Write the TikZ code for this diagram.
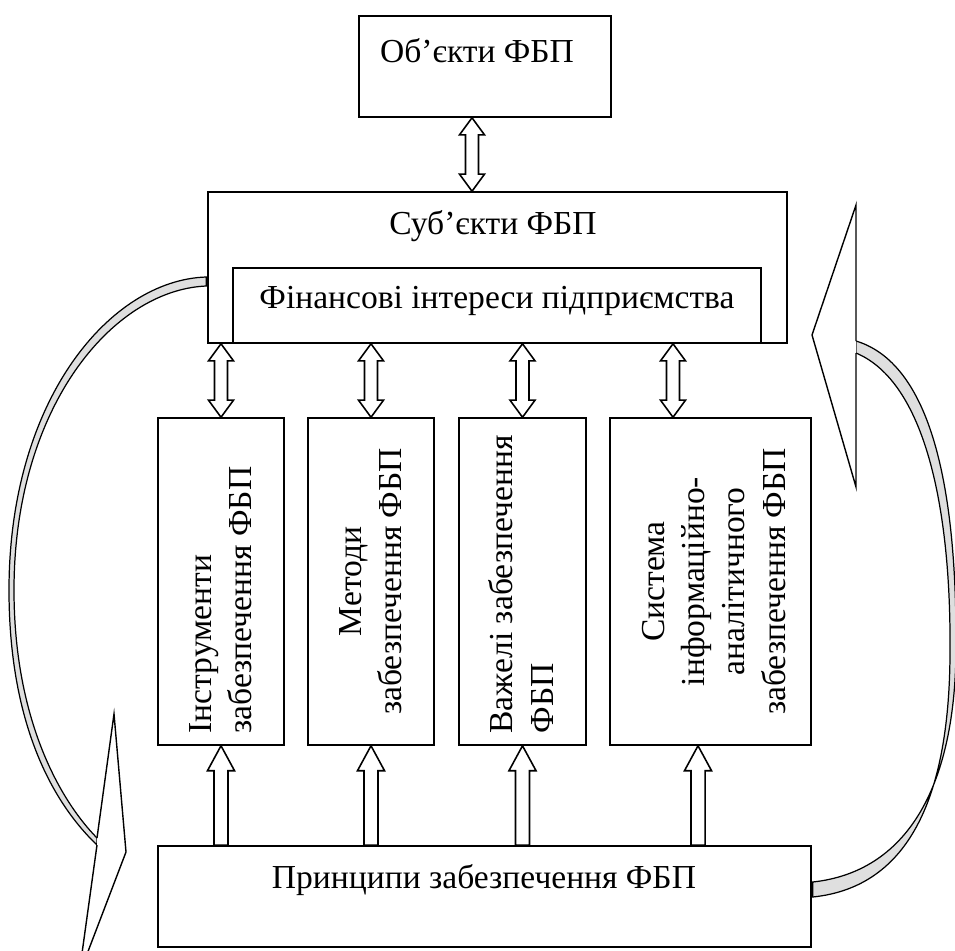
\documentclass[tikz,border=0pt]{standalone}
\usepackage{fontspec}
\setmainfont{Liberation Serif}
\usetikzlibrary{calc}

\tikzset{
  box/.style={draw, line width=0.9pt, inner sep=0pt},
  txt/.style={font=\fontsize{19.1}{22.8}\selectfont, inner sep=0pt},
  hollow/.style={draw, fill=white, line width=0.9pt, line join=miter},
  updown/.style={to path={let \p1=(\tikztostart), \p2=(\tikztotarget) in
    (\p1) -- ++(7.1pt,-9.7pt) -- ++(-3.4pt,0pt) -- ($(\p2)+(3.7pt,9.7pt)$)
    -- ++(3.4pt,0pt) -- (\p2) -- ++(-7.1pt,9.7pt) -- ++(3.4pt,0pt)
    -- ($(\p1)+(-3.7pt,-9.7pt)$) -- ++(-3.4pt,0pt) -- cycle}},
  upward/.style={to path={let \p1=(\tikztostart), \p2=(\tikztotarget) in
    ($(\p1)+(-4pt,0pt)$) -- ($(\p2)+(-4pt,-14.2pt)$) -- ++(-3.7pt,0pt) -- (\p2)
    -- ++(7.7pt,-14.2pt) -- ++(-3.7pt,0pt) -- ($(\p1)+(4pt,0pt)$) -- cycle}},
  shaft/.style={draw, fill=gray!25, line width=0.7pt},
  tip/.style={draw, fill=white, line width=0.8pt, line join=miter}
}

\begin{document}
\begin{tikzpicture}[x=0.02cm, y=-0.02cm]

\useasboundingbox (0,0) rectangle (955,950);
\clip (0,0) rectangle (955,950);

\node[box, minimum width=5.04cm, minimum height=2.02cm] (obj) at (485,66.5) {};
\node[txt, anchor=base] (objtxt) at (477,62) {Об’єкти ФБП};

\node[box, minimum width=11.58cm, minimum height=3.02cm] (subj) at (497.5,267.5) {};
\node[txt, anchor=base] (subjtxt) at (493,234) {Суб’єкти ФБП};
\node[box, minimum width=10.56cm, minimum height=1.5cm] (fin) at (497,305.5) {};
\node[txt, anchor=base] (fintxt) at (497,308) {Фінансові інтереси підприємства};

\node[box, minimum width=2.52cm, minimum height=6.54cm] (b1) at (221,581.5) {};
\node[box, minimum width=2.52cm, minimum height=6.54cm] (b2) at (371,581.5) {};
\node[box, minimum width=2.54cm, minimum height=6.54cm] (b3) at (522.5,581.5) {};
\node[box, minimum width=4.02cm, minimum height=6.54cm] (b4) at (710.5,581.5) {};

\node[txt, rotate=90, align=left, anchor=west] (b1txt) at ($(b1.south)+(0,-12)$) {Інструменти\\забезпечення ФБП};
\node[txt, rotate=90, align=center] (b2txt) at (b2) {Методи\\забезпечення ФБП};
\node[txt, rotate=90, align=left, anchor=west] (b3txt) at ($(b3.south)+(-1.5,-12)$) {Важелі забезпечення\\ФБП};
\node[txt, rotate=90, align=center] (b4txt) at ($(b4)+(3.5,0)$) {Система\\інформаційно-\\аналітичного\\забезпечення ФБП};

\node[box, minimum width=13.06cm, minimum height=2.02cm] (prin) at (484.5,896.5) {};
\node[txt, anchor=base] (printxt) at (484,888) {Принципи забезпечення ФБП};

% block arrows
\coordinate (oa) at ($(obj.south)+(-13,0)$);
\draw[hollow] (oa) to[updown] (oa |- subj.north);
\draw[hollow] (subj.south -| b1.north) to[updown] (b1.north);
\draw[hollow] (subj.south -| b2.north) to[updown] (b2.north);
\draw[hollow] (subj.south -| b3.north) to[updown] (b3.north);
\coordinate (da) at ($(b4.north)+(-37.5,0)$);
\draw[hollow] (da |- subj.south) to[updown] (da);

\draw[hollow] (prin.north -| b1.south) to[upward] (b1.south);
\draw[hollow] (prin.north -| b2.south) to[upward] (b2.south);
\draw[hollow] (prin.north -| b3.south) to[upward] (b3.south);
\coordinate (ua) at ($(b4.south)+(-12.5,0)$);
\draw[hollow] (prin.north -| ua) to[upward] (ua);

% curved arrows
\coordinate (la) at ($(subj.west)+(-1,9.5)$);
\coordinate (lb) at ($(subj.west)+(-1,18.5)$);
\path[shaft] (la) .. controls (110,280) and (9,400) .. (9,590)
  .. controls (9,720) and (50,800) .. (97,845) -- (97,838)
  .. controls (57,797) and (14,715) .. (14,590)
  .. controls (14,408) and (112,290) .. (lb) -- cycle;
\draw[tip] (97,838) -- (114,714) -- (126,852) -- (79,975) -- (97,845);

\coordinate (ra) at ($(prin.east)+(1,-14.5)$);
\coordinate (rb) at ($(prin.east)+(1,0.5)$);
\path[shaft] (856,341) .. controls (935,365) and (957,500) .. (956,650)
  .. controls (955,790) and (905,872) .. (ra) -- (rb)
  .. controls (910,887) and (950,795) .. (950,650)
  .. controls (951,508) and (925,382) .. (856,353) -- cycle;
\draw[tip] (856,341) -- (856,205) -- (812,335) -- (856,487) -- (856,353);

\end{tikzpicture}
\end{document}
